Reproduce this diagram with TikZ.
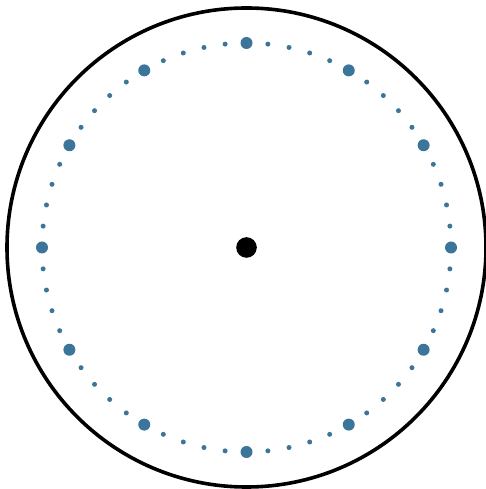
\documentclass[tikz,border=0pt]{standalone}
\usetikzlibrary{calc}
\definecolor{dotblue}{RGB}{59,117,153}
\begin{document}
\begin{tikzpicture}[x=1pt,y=1pt,
  hourdot/.style={fill=dotblue},
  minutedot/.style={fill=dotblue}]
\useasboundingbox (0,0) rectangle (485,489);
\coordinate (c) at (246.5,241.5);
\draw[line width=3.6pt] (c) circle (239.5);
\foreach \i in {0,...,59}{
  \pgfmathtruncatemacro{\h}{mod(\i,5)}
  \ifnum\h=0
    \fill[hourdot] ($(c)+(90-6*\i:204.5)$) circle (6);
  \else
    \fill[minutedot] ($(c)+(90-6*\i:204.5)$) circle (2.5);
  \fi
}
\fill[black] (c) circle (10.3);
\end{tikzpicture}
\end{document}
